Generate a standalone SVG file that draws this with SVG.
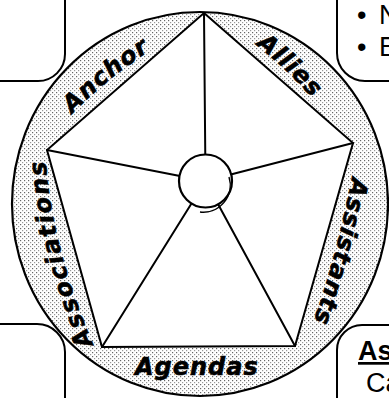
<svg xmlns="http://www.w3.org/2000/svg" xmlns:xlink="http://www.w3.org/1999/xlink" width="389" height="398" viewBox="0 0 389 398">
<style>
.box{fill:#fff;stroke:#000;stroke-width:2}
.edge{stroke:#000;stroke-width:2;fill:none;stroke-linecap:round}
.lbl{font-family:"DejaVu Sans",sans-serif;font-weight:bold;font-style:italic;font-size:24px;fill:#000;stroke:#000;stroke-width:0.6}
.note{font-family:"Liberation Sans",Arial,sans-serif;font-size:27px;fill:#000}
</style>
<defs>
<pattern id="dots" width="4" height="4" patternUnits="userSpaceOnUse">
<rect width="4" height="4" fill="#fff"/>
<rect x="0" y="0" width="1.2" height="1.2" fill="#666"/>
<rect x="2" y="2" width="1.2" height="1.2" fill="#999"/>
</pattern>
<path id="p-anchor" d="M72,114 Q107,78 151,50"/>
<path id="p-allies" d="M256,45 Q286,68 312,98"/>
<path id="p-assist" d="M352,177 Q338,252 313,323"/>
<path id="p-assoc" d="M93,344 Q51,246 45,153"/>
</defs>
<rect width="389" height="398" fill="#fff"/>
<g id="box-tl"><rect class="box" x="-40" y="-40" width="105" height="121" rx="27"/></g>
<g id="box-tr"><rect class="box" x="337" y="-40" width="100" height="121" rx="28"/>
<text class="note" x="357" y="24">•<tspan x="379">N</tspan></text>
<text class="note" x="357" y="56">•<tspan x="379">E</tspan></text></g>
<g id="box-bl"><rect class="box" x="-40" y="324" width="105" height="120" rx="28"/></g>
<g id="box-br"><rect class="box" x="337" y="325" width="100" height="120" rx="25"/>
<text class="note" x="358" y="360" font-weight="bold" text-decoration="underline">As</text>
<text class="note" x="366" y="392">Ca</text></g>
<g id="ring">
<ellipse cx="200" cy="204" rx="188" ry="192" fill="url(#dots)" stroke="#000" stroke-width="2.2"/>
<polygon points="204,13 353,143 295,346 102,347 47,150" fill="#fff" stroke="#000" stroke-width="2" stroke-linejoin="miter"/>
</g>
<g id="connectors">
<line class="edge" x1="204" y1="13" x2="205.5" y2="181"/>
<line class="edge" x1="47" y1="150" x2="205.5" y2="181"/>
<line class="edge" x1="353" y1="143" x2="205.5" y2="181"/>
<line class="edge" x1="102" y1="347" x2="205.5" y2="181"/>
<line class="edge" x1="295" y1="346" x2="205.5" y2="181"/>
</g>
<g id="hub">
<circle cx="205.5" cy="181" r="26.5" fill="#fff" stroke="#000" stroke-width="2.2"/>
<path d="M229,177 A27,27 0 0 1 200,212" fill="none" stroke="#000" stroke-width="1.4"/>
</g>
<g id="label-anchor"><text class="lbl" letter-spacing="1"><textPath xlink:href="#p-anchor" href="#p-anchor">Anchor</textPath></text></g>
<g id="label-allies"><text class="lbl" letter-spacing="0.6"><textPath xlink:href="#p-allies" href="#p-allies">Allies</textPath></text></g>
<g id="label-assistants"><text class="lbl" letter-spacing="1"><textPath xlink:href="#p-assist" href="#p-assist">Assistants</textPath></text></g>
<g id="label-associations"><text class="lbl" letter-spacing="1.8"><textPath xlink:href="#p-assoc" href="#p-assoc">Associations</textPath></text></g>
<g id="label-agendas"><text class="lbl" x="135" y="375" letter-spacing="1">Agendas</text></g>
</svg>
